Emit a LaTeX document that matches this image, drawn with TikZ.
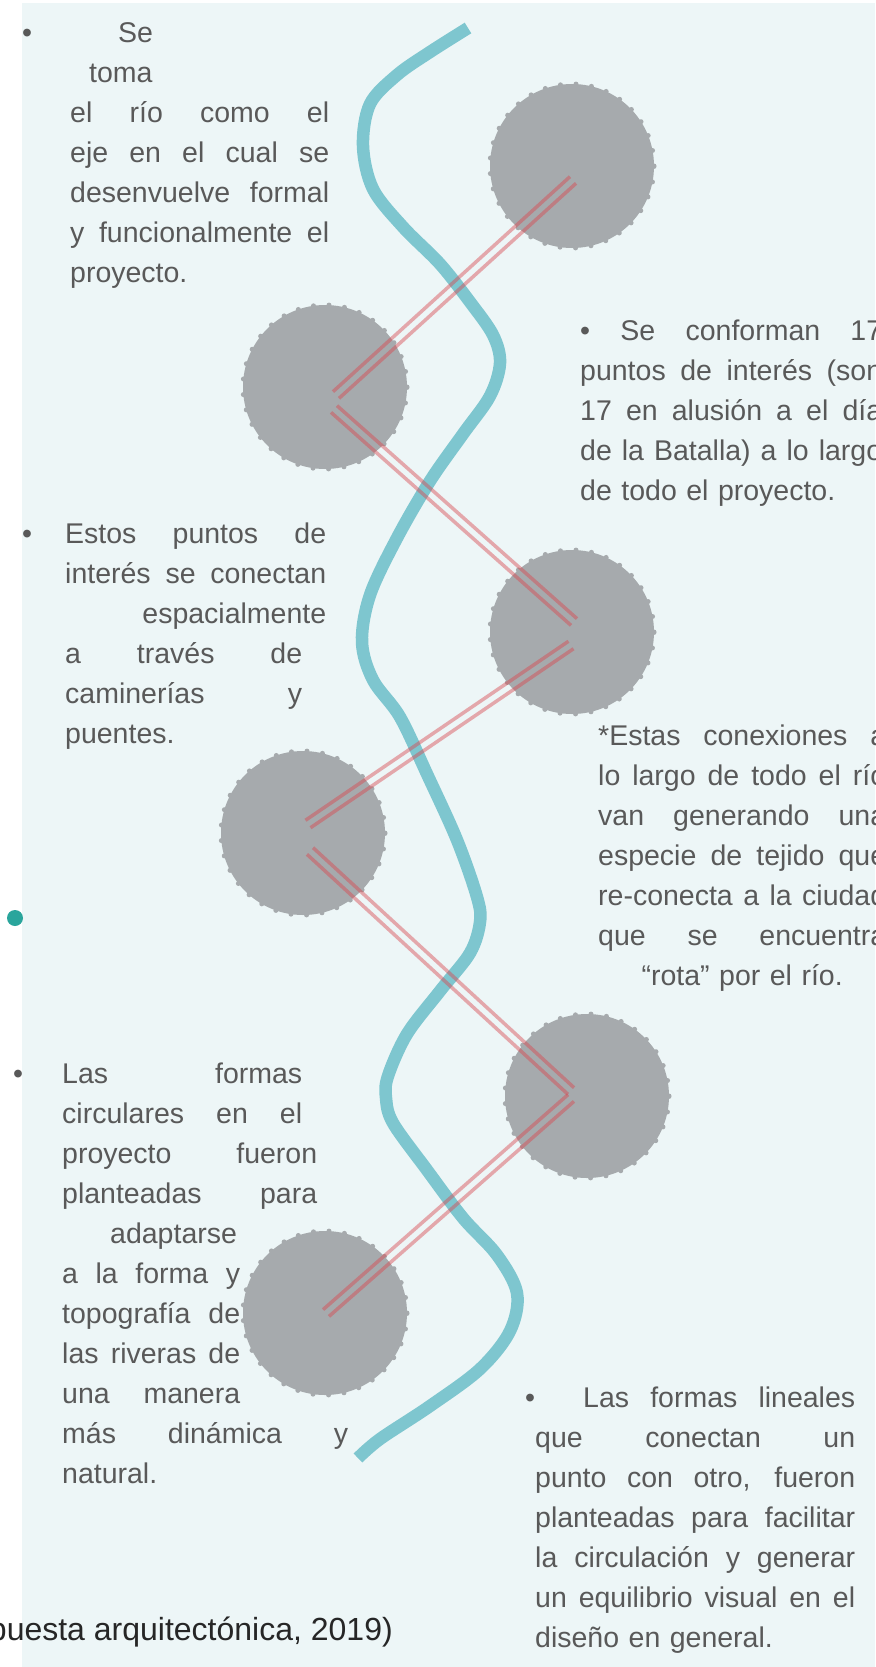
\documentclass[tikz,border=0pt]{standalone}
\usepackage{fontspec}
\setmainfont{Liberation Sans}
\usetikzlibrary{calc}
\definecolor{panel}{HTML}{EDF6F7}
\definecolor{river}{HTML}{7EC6CF}
\definecolor{spot}{HTML}{A6AAAD}
\definecolor{bridge}{HTML}{D9474F}
\definecolor{textgray}{HTML}{595959}
\definecolor{dotteal}{HTML}{2AA59C}
\newcommand{\jl}[2][\linewidth]{\makebox[#1][s]{\spaceskip=0pt\xspaceskip=0pt\relax#2}}
\newcommand{\bridgepair}[2]{%
  \draw[bridge] ($(#1)!4.5pt!90:(#2)$) -- ($(#2)!4.5pt!-90:(#1)$);
  \draw[bridge] ($(#1)!4.5pt!-90:(#2)$) -- ($(#2)!4.5pt!90:(#1)$);}

\begin{document}
\begin{tikzpicture}[x=1pt,y=-1pt]
\tikzset{spotc/.style={circle,minimum size=164pt,inner sep=0pt,fill=spot,draw=spot,line width=5pt,dash pattern=on 0pt off 15.6pt,line cap=round},
  bridge/.style={draw=bridge,line width=3.5pt,opacity=0.45},
  note/.style={anchor=base west,inner sep=0pt,text width=#1,align=left,text=textgray,font=\fontsize{28.5}{40}\selectfont}}
\useasboundingbox (0,0) rectangle (875,1667);
\clip (0,0) rectangle (875,1667);
\fill[white] (0,0) rectangle (875,1667);
\fill[panel] (22,3) rectangle (875,1667);
% puntos de interes
\node[spotc] (p1) at (572,166) {};
\node[spotc] (p2) at (325,387) {};
\node[spotc] (p3) at (572,632) {};
\node[spotc] (p4) at (303,833) {};
\node[spotc] (p5) at (587,1096) {};
\node[spotc] (p6) at (325,1313) {};
% rio
\draw[river,line width=12.5pt] plot[smooth,tension=0.55] coordinates {(468,28) (430,52) (397,75) (370,104) (363,146) (373,189) (403,227) (440,264) (470,302) (493,335) (500,363) (490,396) (463,434) (430,481) (397,538) (370,595) (362,642) (373,680) (400,717) (427,774) (457,840) (477,897) (480,922) (470,953) (440,991) (407,1034) (388,1076) (386,1098) (393,1123) (427,1170) (463,1218) (497,1255) (517,1293) (510,1331) (480,1369) (430,1406) (380,1439) (358,1458)};
% caminerias y puentes
\coordinate (a1) at (573,180);
\coordinate (a2) at (336,395);
\coordinate (b2) at (334,409);
\coordinate (a3) at (574,622);
\coordinate (b3) at (571,645);
\coordinate (a4) at (308,824);
\coordinate (b4) at (310,851);
\coordinate (a5) at (571,1091);
\coordinate (b5) at (571,1098);
\coordinate (a6) at (326,1313);
\bridgepair{a1}{a2}
\bridgepair{b2}{a3}
\bridgepair{b3}{a4}
\bridgepair{b4}{a5}
\bridgepair{b5}{a6}
\node[circle,fill=dotteal,minimum size=16pt,inner sep=0pt] (tdot) at (15,918) {};
% textos
\node[note=259pt] (t1) at (70,43) {\llap{•\hspace{38pt}}\hspace*{48pt}Se\\
  \hspace*{19pt}toma\\
  \jl{el río como el}\\
  \jl{eje en el cual se}\\
  \jl{desenvuelve formal}\\
  \jl{y funcionalmente el}\\
  proyecto.};
\node[note=302pt] (t2) at (580,340) {\jl{• Se conforman 17}\\
  \jl{puntos de interés (son}\\
  \jl{17 en alusión a el día}\\
  \jl{de la Batalla) a lo largo}\\
  de todo el proyecto.};
\node[note=261pt] (t3) at (65,543) {\llap{•\hspace{33pt}}\jl{Estos puntos de}\\
  \jl{interés se conectan}\\
  \makebox[\linewidth][r]{espacialmente}\\
  \jl[237pt]{a través de}\\
  \jl[237pt]{caminerías y}\\
  puentes.};
\node[note=288pt] (t4) at (598,745) {\jl{*Estas conexiones a}\\
  \jl{lo largo de todo el río}\\
  \jl{van generando una}\\
  \jl{especie de tejido que}\\
  \jl{re-conecta a la ciudad}\\
  \jl{que se encuentra}\\
  \makebox[\linewidth][c]{“rota” por el río.}};
\node[note=286pt] (t5) at (62,1083) {\llap{•\hspace{39pt}}\jl[240pt]{Las formas}\\
  \jl[240pt]{circulares en el}\\
  \jl[255pt]{proyecto fueron}\\
  \jl[255pt]{planteadas para}\\
  \hspace*{48pt}adaptarse\\
  \jl[178pt]{a la forma y}\\
  \jl[178pt]{topografía de}\\
  \jl[178pt]{las riveras de}\\
  \jl[178pt]{una manera}\\
  \jl{más dinámica y}\\
  natural.};
\node[note=320pt] (t6) at (535,1407) {\hspace*{-10pt}\makebox[58pt][l]{•}\jl[272pt]{Las formas lineales}\\
  \jl{que conectan un}\\
  \jl{punto con otro, fueron}\\
  \jl{planteadas para facilitar}\\
  \jl{la circulación y generar}\\
  \jl{un equilibrio visual en el}\\
  diseño en general.};
\node[anchor=base east,inner sep=0pt,text=black!85,font=\fontsize{32}{38}\selectfont] (cap) at (393,1640) {puesta arquitectónica, 2019)};
\end{tikzpicture}
\end{document}
